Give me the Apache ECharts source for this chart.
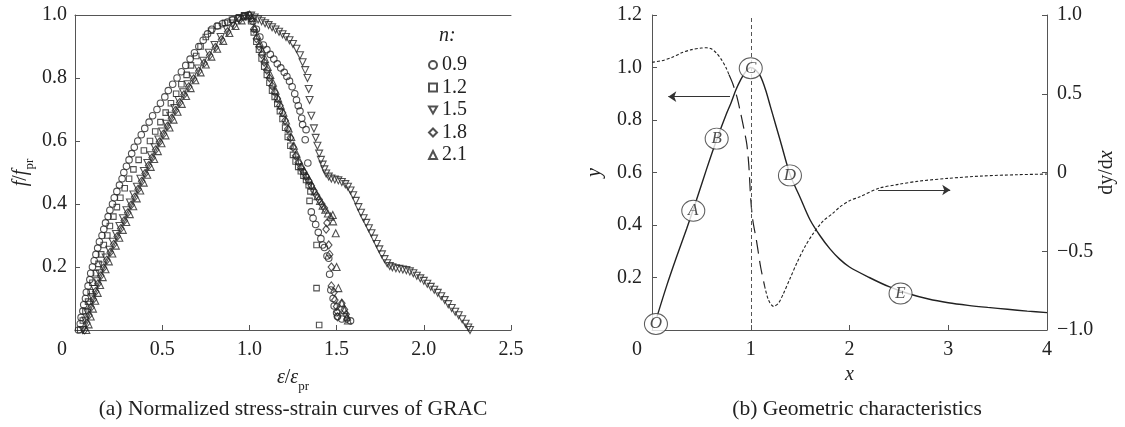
<!DOCTYPE html>
<html>
<head>
<meta charset="utf-8">
<script src="https://cdn.jsdelivr.net/npm/echarts@6/dist/echarts.min.js"></script>
<style>
html, body { margin: 0; padding: 0; background: #fff; }
#chart { width: 1125px; height: 427px; }
</style>
</head>
<body>
<div id="chart"></div>
<script>
// ---- panel (a): normalized stress-strain points, one list per n ----
const nNames = ['0.9', '1.2', '1.5', '1.8', '2.1'];

const n09 = [
  [0.02,0.0],[0.03,0.02],[0.035,0.04],[0.045,0.06],[0.05,0.08],[0.06,0.1],[0.065,0.12],[0.075,0.14],[0.085,0.16],[0.09,0.18],
  [0.1,0.2],[0.11,0.22],[0.12,0.24],[0.13,0.26],[0.14,0.28],[0.155,0.3],[0.165,0.32],[0.175,0.34],[0.19,0.36],[0.2,0.38],
  [0.215,0.4],[0.225,0.42],[0.24,0.44],[0.255,0.46],[0.27,0.48],[0.28,0.5],[0.295,0.52],[0.31,0.54],[0.325,0.56],[0.34,0.58],
  [0.36,0.6],[0.38,0.62],[0.4,0.64],[0.425,0.66],[0.445,0.68],[0.47,0.7],[0.49,0.72],[0.515,0.74],[0.535,0.76],[0.56,0.78],
  [0.585,0.8],[0.61,0.82],[0.635,0.84],[0.66,0.86],[0.685,0.88],[0.71,0.9],[0.735,0.92],[0.76,0.94],[0.785,0.955],[0.815,0.965],
  [0.845,0.972],[0.875,0.978],[0.905,0.985],[0.935,0.99],[0.965,0.995],[0.995,1.0],
  [1.02,0.98],[1.04,0.955],[1.06,0.93],[1.08,0.905],[1.1,0.89],[1.12,0.875],[1.14,0.86],[1.16,0.845],[1.18,0.832],[1.2,0.818],
  [1.215,0.805],[1.23,0.79],[1.245,0.772],[1.26,0.75],[1.27,0.73],[1.28,0.712],[1.29,0.695],[1.3,0.672],[1.305,0.652],[1.325,0.636],
  [1.32,0.604],[1.335,0.53],[1.355,0.375],[1.365,0.355],[1.38,0.335],[1.395,0.31],[1.41,0.29],[1.42,0.27],[1.43,0.262],[1.445,0.235],
  [1.455,0.228],[1.46,0.177],[1.467,0.127],[1.48,0.1],[1.486,0.076],[1.5,0.055],[1.505,0.043],[1.53,0.035],[1.58,0.029]
];

const n12 = [
  [0.03,0.0],[0.045,0.03],[0.06,0.06],[0.075,0.09],[0.09,0.12],[0.1,0.15],[0.12,0.18],[0.135,0.21],[0.15,0.24],[0.165,0.27],
  [0.185,0.3],[0.2,0.33],[0.22,0.36],[0.24,0.39],[0.26,0.42],[0.285,0.45],[0.31,0.48],[0.335,0.51],[0.365,0.54],[0.395,0.57],
  [0.43,0.6],[0.46,0.63],[0.49,0.66],[0.52,0.69],[0.55,0.72],[0.58,0.75],[0.61,0.78],[0.64,0.81],[0.665,0.84],[0.695,0.87],
  [0.72,0.9],[0.75,0.93],[0.78,0.95],[0.82,0.965],[0.86,0.975],[0.9,0.985],[0.94,0.993],[0.97,0.998],
  [1.01,0.98],[1.025,0.945],[1.04,0.915],[1.055,0.89],[1.07,0.862],[1.085,0.836],[1.1,0.81],[1.115,0.785],[1.13,0.76],[1.145,0.74],
  [1.16,0.718],[1.175,0.695],[1.19,0.67],[1.205,0.642],[1.22,0.613],[1.235,0.585],[1.25,0.556],[1.265,0.535],[1.28,0.518],[1.295,0.504],
  [1.31,0.49],[1.325,0.476],[1.34,0.46],[1.35,0.44],[1.345,0.41],[1.385,0.27],[1.385,0.133],[1.4,0.016]
];

const n15 = [
  [0.045,0.0],[0.06,0.03],[0.072,0.055],[0.085,0.08],[0.098,0.105],[0.112,0.13],[0.126,0.155],[0.14,0.18],[0.157,0.205],[0.176,0.23],
  [0.196,0.255],[0.216,0.28],[0.235,0.305],[0.255,0.33],[0.275,0.355],[0.295,0.38],[0.315,0.405],[0.335,0.43],[0.355,0.455],[0.375,0.48],
  [0.395,0.505],[0.415,0.53],[0.435,0.555],[0.456,0.58],[0.478,0.605],[0.5,0.63],[0.523,0.655],[0.546,0.68],[0.57,0.705],[0.594,0.73],
  [0.62,0.755],[0.646,0.78],[0.675,0.805],[0.705,0.83],[0.735,0.855],[0.767,0.88],[0.8,0.905],[0.835,0.93],[0.87,0.955],[0.905,0.973],
  [0.94,0.987],[0.975,0.997],
  [1.01,0.998],[1.03,0.992],[1.05,0.986],[1.07,0.98],[1.09,0.974],[1.11,0.968],[1.13,0.961],[1.15,0.954],[1.17,0.947],[1.19,0.939],
  [1.21,0.93],[1.23,0.92],[1.25,0.908],[1.27,0.893],[1.29,0.872],[1.305,0.85],[1.32,0.825],[1.333,0.8],[1.34,0.765],[1.345,0.73],
  [1.355,0.68],[1.37,0.64],[1.38,0.61],[1.39,0.585],[1.4,0.56],[1.41,0.54],[1.42,0.525],[1.43,0.51],[1.44,0.497],[1.455,0.487],
  [1.47,0.481],[1.49,0.478],[1.51,0.475],[1.53,0.47],[1.55,0.463],[1.565,0.455],[1.58,0.443],[1.595,0.428],[1.61,0.41],[1.625,0.39],
  [1.64,0.372],[1.655,0.355],[1.67,0.34],[1.685,0.323],[1.7,0.307],[1.715,0.29],[1.73,0.273],[1.745,0.256],[1.76,0.24],[1.775,0.225],
  [1.79,0.212],[1.805,0.203],[1.82,0.199],[1.84,0.196],[1.86,0.194],[1.88,0.192],[1.9,0.19],[1.92,0.186],[1.94,0.18],[1.96,0.172],
  [1.98,0.164],[2.0,0.156],[2.02,0.147],[2.04,0.137],[2.06,0.128],[2.08,0.118],[2.1,0.107],[2.12,0.095],[2.14,0.082],[2.16,0.07],
  [2.18,0.058],[2.2,0.047],[2.22,0.034],[2.24,0.02],[2.255,0.008],[2.265,0.0]
];

const n18 = [
  [0.055,0.0],[0.068,0.022],[0.08,0.047],[0.092,0.072],[0.105,0.097],[0.118,0.122],[0.132,0.147],[0.147,0.172],[0.163,0.197],[0.182,0.222],
  [0.202,0.247],[0.222,0.272],[0.242,0.297],[0.262,0.322],[0.282,0.347],[0.302,0.372],[0.322,0.397],[0.342,0.422],[0.362,0.447],[0.382,0.472],
  [0.402,0.497],[0.422,0.522],[0.442,0.547],[0.462,0.572],[0.484,0.597],[0.507,0.622],[0.53,0.647],[0.553,0.672],[0.576,0.697],[0.6,0.722],
  [0.625,0.747],[0.652,0.772],[0.68,0.797],[0.71,0.822],[0.74,0.847],[0.772,0.872],[0.805,0.897],[0.84,0.922],[0.875,0.947],[0.91,0.968],
  [0.945,0.985],[0.98,0.996],[1.0,1.0],
  [1.01,0.99],[1.025,0.955],[1.04,0.925],[1.055,0.9],[1.07,0.875],[1.085,0.85],[1.1,0.825],[1.115,0.8],[1.13,0.775],[1.145,0.755],
  [1.16,0.735],[1.175,0.713],[1.19,0.69],[1.205,0.665],[1.22,0.638],[1.235,0.61],[1.25,0.58],[1.265,0.553],[1.28,0.532],[1.295,0.515],
  [1.31,0.502],[1.325,0.488],[1.34,0.474],[1.355,0.458],[1.37,0.442],[1.385,0.428],[1.4,0.414],[1.415,0.4],[1.43,0.387],[1.445,0.34],
  [1.44,0.32],[1.455,0.27],[1.46,0.24],[1.47,0.2],[1.47,0.14],[1.485,0.12],[1.49,0.095],[1.5,0.075],[1.505,0.058],[1.505,0.042],
  [1.53,0.085],[1.545,0.065],[1.555,0.05],[1.56,0.035]
];

const n21 = [
  [0.065,0.0],[0.078,0.018],[0.09,0.043],[0.103,0.068],[0.116,0.093],[0.13,0.118],[0.144,0.143],[0.159,0.168],[0.175,0.193],[0.194,0.218],
  [0.214,0.243],[0.234,0.268],[0.254,0.293],[0.274,0.318],[0.294,0.343],[0.314,0.368],[0.334,0.393],[0.354,0.418],[0.374,0.443],[0.394,0.468],
  [0.414,0.493],[0.434,0.518],[0.454,0.543],[0.475,0.568],[0.496,0.593],[0.519,0.618],[0.542,0.643],[0.565,0.668],[0.588,0.693],[0.612,0.718],
  [0.637,0.743],[0.663,0.768],[0.69,0.793],[0.72,0.818],[0.75,0.843],[0.782,0.868],[0.815,0.893],[0.85,0.918],[0.885,0.943],[0.92,0.965],
  [0.955,0.983],[0.99,0.996],
  [1.015,0.99],[1.03,0.96],[1.045,0.935],[1.06,0.91],[1.075,0.885],[1.09,0.86],[1.105,0.835],[1.12,0.81],[1.135,0.785],[1.15,0.76],
  [1.165,0.735],[1.18,0.712],[1.195,0.69],[1.21,0.665],[1.225,0.64],[1.24,0.613],[1.255,0.585],[1.27,0.56],[1.285,0.538],[1.3,0.52],
  [1.315,0.505],[1.33,0.49],[1.345,0.475],[1.36,0.458],[1.375,0.44],[1.39,0.425],[1.405,0.41],[1.42,0.395],[1.435,0.382],[1.45,0.37],
  [1.465,0.36],[1.478,0.365],[1.48,0.345],[1.495,0.307],[1.5,0.2],[1.51,0.133],[1.53,0.085],[1.545,0.063],[1.56,0.042],[1.565,0.03]
];

// ---- panel (b): geometric characteristics ----
const curveY = [
  [0.05,0.05],[0.15,0.17],[0.25,0.28],[0.35,0.385],[0.45,0.495],[0.55,0.61],[0.65,0.72],[0.75,0.82],[0.8,0.865],[0.85,0.915],
  [0.9,0.955],[0.95,0.985],[1.0,1.0],[1.05,0.99],[1.1,0.965],[1.15,0.915],[1.2,0.85],[1.25,0.785],[1.3,0.72],[1.4,0.59],
  [1.5,0.505],[1.6,0.42],[1.7,0.36],[1.8,0.31],[1.9,0.27],[2.0,0.24],[2.2,0.2],[2.4,0.165],[2.6,0.138],[2.8,0.118],
  [3.0,0.104],[3.2,0.094],[3.4,0.086],[3.6,0.079],[3.8,0.072],[4.0,0.066]
];
// dy/dx, split where the dash pattern changes
const slopeLeft = [
  [0,0.70],[0.1,0.71],[0.2,0.73],[0.3,0.76],[0.4,0.78],[0.5,0.79],[0.55,0.792],[0.6,0.785],[0.65,0.76],[0.7,0.72],[0.75,0.665],[0.78,0.62]
];
const slopeMid = [
  [0.78,0.62],[0.82,0.56],[0.86,0.48],[0.9,0.37],[0.93,0.28],[0.96,0.18],[0.98,0.05],[1.0,-0.17],[1.02,-0.3],[1.06,-0.44],[1.1,-0.6],[1.14,-0.72]
];
const slopeRight = [
  [1.14,-0.72],[1.18,-0.81],[1.23,-0.85],[1.28,-0.83],[1.33,-0.77],[1.4,-0.67],[1.47,-0.57],[1.55,-0.47],[1.63,-0.39],[1.73,-0.31],
  [1.83,-0.26],[1.9,-0.22],[2.0,-0.18],[2.1,-0.155],[2.3,-0.1],[2.5,-0.075],[2.7,-0.055],[3.0,-0.037],[3.35,-0.022],[3.7,-0.014],[4.0,-0.01]
];
const pointNames = ['O', 'A', 'B', 'C', 'D', 'E'];
const pointXY = [[0.04,0.023],[0.418,0.454],[0.655,0.729],[1.0,0.997],[1.397,0.589],[2.517,0.139]];

const FONT = '"Liberation Serif", "DejaVu Serif", serif';
const INK = '#222';
const AXIS = '#555';

const chart = echarts.init(document.getElementById('chart'));

const axisCommon = {
    type: 'value',
    splitLine: { show: false },
    axisLine: { show: true, onZero: false, lineStyle: { color: AXIS, width: 1 } },
    axisTick: { show: true, inside: true, length: 5, lineStyle: { color: AXIS } }
};
const labelStyle = { fontFamily: FONT, fontSize: 20, color: INK };
const nameRich = {
    i: { fontFamily: FONT, fontSize: 20, fontStyle: 'italic', color: INK, lineHeight: 20, verticalAlign: 'bottom', padding: [0, 0, 5, 0] },
    n: { fontFamily: FONT, fontSize: 20, color: INK, lineHeight: 20, verticalAlign: 'bottom', padding: [0, 0, 5, 0] },
    s: { fontFamily: FONT, fontSize: 13, color: INK, lineHeight: 14, verticalAlign: 'bottom' }
};

const pointStyle = { color: 'rgba(0,0,0,0)', borderColor: '#262626', borderWidth: 1.1 };
const scatterSeries = (name, data, symbol, size) => ({
    name: name,
    type: 'scatter',
    xAxisIndex: 0,
    yAxisIndex: 0,
    data: data,
    symbol: symbol,
    symbolSize: size,
    itemStyle: pointStyle,
    z: 3
});

const option = {
    animation: false,
    backgroundColor: '#fff',
    grid: [
        { left: 75, top: 15, width: 436, height: 315 },
        { left: 652, top: 15, width: 395, height: 315 }
    ],
    legend: {
        data: nNames,
        orient: 'vertical',
        left: 423,
        top: 50,
        itemWidth: 8,
        itemHeight: 8,
        itemGap: 2.5,
        textStyle: { fontFamily: FONT, fontSize: 20, color: INK, lineHeight: 20 }
    },
    graphic: [
        { type: 'text', left: 439, top: 26, style: { text: 'n:', fontFamily: FONT, fontSize: 20, fontStyle: 'italic', fill: INK } },
        { type: 'text', x: 293, y: 409, style: { text: '(a) Normalized stress-strain curves of GRAC', fontFamily: FONT, fontSize: 21.5, fill: INK, align: 'center', verticalAlign: 'middle' } },
        { type: 'text', x: 857, y: 409, style: { text: '(b) Geometric characteristics', fontFamily: FONT, fontSize: 21.5, fill: INK, align: 'center', verticalAlign: 'middle' } }
    ],
    xAxis: [
        Object.assign({}, axisCommon, {
            gridIndex: 0, min: 0, max: 2.5, interval: 0.5,
            axisLabel: Object.assign({}, labelStyle, {
                margin: 10,
                formatter: v => v === 0 ? '{z|0}' : v.toFixed(1),
                rich: { z: { fontFamily: FONT, fontSize: 20, color: INK, padding: [0, 26, 0, 0] } }
            }),
            name: '{i|ε}{n|/}{i|ε}{s|pr}',
            nameLocation: 'middle',
            nameGap: 43,
            nameTextStyle: { rich: nameRich }
        }),
        Object.assign({}, axisCommon, {
            gridIndex: 0, min: 0, max: 2.5, position: 'top',
            axisTick: { show: false }, axisLabel: { show: false }
        }),
        Object.assign({}, axisCommon, {
            gridIndex: 1, min: 0, max: 4, interval: 1,
            axisLabel: Object.assign({}, labelStyle, {
                margin: 10,
                formatter: v => v === 0 ? '{z|0}' : String(v),
                rich: { z: { fontFamily: FONT, fontSize: 20, color: INK, padding: [0, 30, 0, 0] } }
            }),
            name: '{i|x}',
            nameLocation: 'middle',
            nameGap: 31,
            nameTextStyle: { rich: nameRich }
        })
    ],
    yAxis: [
        Object.assign({}, axisCommon, {
            gridIndex: 0, min: 0, max: 1, interval: 0.2,
            axisLabel: Object.assign({}, labelStyle, { margin: 8, showMinLabel: false, formatter: v => v.toFixed(1) }),
            name: '{i|f}{n|/}{i|f}{s|pr}',
            nameLocation: 'middle',
            nameRotate: 90,
            nameGap: 39,
            nameTextStyle: { rich: nameRich }
        }),
        Object.assign({}, axisCommon, {
            gridIndex: 1, min: 0, max: 1.2, interval: 0.2,
            axisLabel: Object.assign({}, labelStyle, { margin: 10, showMinLabel: false, formatter: v => v.toFixed(1) }),
            name: '{i|y}',
            nameLocation: 'middle',
            nameRotate: 90,
            nameGap: 42,
            nameTextStyle: { rich: nameRich }
        }),
        Object.assign({}, axisCommon, {
            gridIndex: 1, min: -1, max: 1, interval: 0.5, position: 'right',
            axisLabel: Object.assign({}, labelStyle, {
                margin: 10,
                formatter: v => v === 0 ? '0' : (v < 0 ? '\u2212' + Math.abs(v).toFixed(1) : v.toFixed(1))
            }),
            name: '{n|dy/d}{i|x}',
            nameLocation: 'middle',
            nameRotate: 90,
            nameGap: 52,
            nameTextStyle: { rich: nameRich }
        })
    ],
    series: [
        scatterSeries('0.9', n09, 'circle', 6.5),
        scatterSeries('1.2', n12, 'rect', 5.5),
        scatterSeries('1.5', n15, 'path://M0,0L10,0L5,8.66Z', 7),
        scatterSeries('1.8', n18, 'diamond', [6.5, 8]),
        scatterSeries('2.1', n21, 'triangle', 7),
        {
            name: 'y',
            type: 'line',
            xAxisIndex: 2,
            yAxisIndex: 1,
            data: curveY,
            smooth: 0.3,
            symbol: 'none',
            lineStyle: { color: '#222', width: 1.4 },
            z: 3,
            markLine: {
                silent: true,
                symbol: ['none', 'arrow'],
                symbolSize: 8,
                label: { show: false },
                lineStyle: { color: '#333', type: 'solid', width: 1 },
                data: [[{ coord: [0.79, 0.889] }, { coord: [0.165, 0.889] }]]
            }
        },
        {
            name: 'slope-a',
            type: 'line',
            xAxisIndex: 2,
            yAxisIndex: 2,
            data: slopeLeft,
            smooth: 0.3,
            symbol: 'none',
            lineStyle: { color: '#222', width: 1.1, type: [3, 2] },
            z: 3,
            markLine: {
                silent: true,
                symbol: 'none',
                label: { show: false },
                lineStyle: { color: AXIS, type: [4, 3], width: 1 },
                data: [{ xAxis: 1 }]
            }
        },
        {
            name: 'slope-b',
            type: 'line',
            xAxisIndex: 2,
            yAxisIndex: 2,
            data: slopeMid,
            smooth: 0.3,
            symbol: 'none',
            lineStyle: { color: '#222', width: 1.2, type: [14, 7] },
            z: 3
        },
        {
            name: 'slope-c',
            type: 'line',
            xAxisIndex: 2,
            yAxisIndex: 2,
            data: slopeRight,
            smooth: 0.3,
            symbol: 'none',
            lineStyle: { color: '#222', width: 1.1, type: [3, 2] },
            z: 3,
            markLine: {
                silent: true,
                symbol: ['none', 'arrow'],
                symbolSize: 8,
                label: { show: false },
                lineStyle: { color: '#333', type: 'solid', width: 1 },
                data: [[{ coord: [2.29, -0.111] }, { coord: [3.02, -0.111] }]]
            }
        },
        {
            name: 'points',
            type: 'scatter',
            xAxisIndex: 2,
            yAxisIndex: 1,
            data: pointXY.map((p, i) => ({ value: p, name: pointNames[i] })),
            symbol: 'circle',
            symbolSize: [23, 21],
            itemStyle: { color: '#fff', borderColor: '#333', borderWidth: 1 },
            label: {
                show: true,
                position: 'inside',
                formatter: '{b}',
                fontFamily: FONT,
                fontStyle: 'italic',
                fontSize: 17,
                color: INK
            },
            z: 10
        }
    ]
};

chart.setOption(option);
</script>
</body>
</html>
